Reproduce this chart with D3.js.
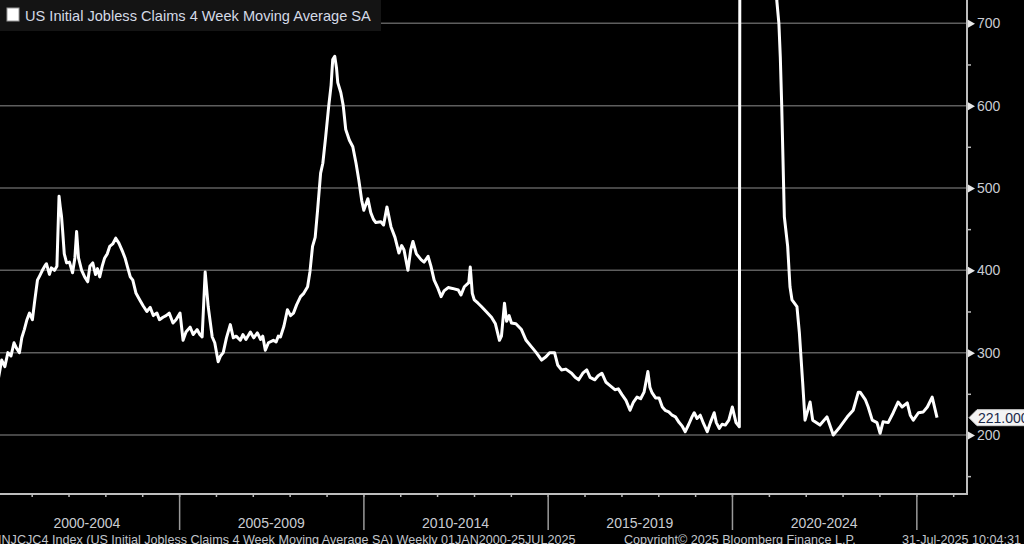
<!DOCTYPE html>
<html>
<head>
<meta charset="utf-8">
<script src="https://cdn.jsdelivr.net/npm/d3@7/dist/d3.min.js"></script>
<style>
  html, body { margin: 0; padding: 0; background: #000; }
  svg { display: block; }
</style>
</head>
<body>
<svg id="chart" width="1024" height="544"></svg>
<script>
// ---- Data ----
const dates = [
  "2000-01-07","2000-02-05","2000-03-10","2000-04-10","2000-05-10","2000-06-10","2000-07-10","2000-08-05","2000-09-01","2000-09-25","2000-10-20","2000-11-15","2000-12-10",
  "2001-01-08","2001-01-30","2001-02-27","2001-03-20","2001-04-17","2001-05-10","2001-05-27","2001-06-26","2001-07-15","2001-08-15","2001-09-08","2001-09-29","2001-10-10","2001-10-24","2001-11-03","2001-11-20","2001-12-13",
  "2002-01-10","2002-02-10","2002-03-05","2002-03-22","2002-04-10","2002-05-11","2002-06-10","2002-07-10","2002-08-01","2002-08-29","2002-09-25","2002-10-15","2002-11-06","2002-12-01","2002-12-25",
  "2003-01-20","2003-02-13","2003-03-15","2003-04-14","2003-05-15","2003-06-23","2003-07-15","2003-08-11","2003-09-05","2003-09-30","2003-11-01","2003-12-08",
  "2004-01-10","2004-02-16","2004-03-20","2004-04-20","2004-05-26","2004-06-20","2004-07-25","2004-08-25","2004-09-25","2004-11-01","2004-12-01",
  "2005-01-10","2005-02-09","2005-03-10","2005-04-20","2005-05-20","2005-06-28","2005-07-25","2005-08-17","2005-09-16","2005-10-16","2005-11-25","2005-12-20",
  "2006-01-23","2006-02-15","2006-03-14","2006-04-15","2006-05-23","2006-06-22","2006-07-20","2006-08-30","2006-09-25","2006-10-25","2006-12-08",
  "2007-01-10","2007-02-15","2007-03-20","2007-04-10","2007-05-05","2007-06-05","2007-07-24","2007-08-20","2007-09-10","2007-10-02","2007-11-05","2007-12-10",
  "2008-01-10","2008-02-08","2008-03-10","2008-04-18","2008-05-20","2008-06-27","2008-07-20","2008-08-15","2008-09-10","2008-10-04","2008-11-03","2008-11-25","2008-12-23",
  "2009-01-22","2009-02-15","2009-03-03","2009-03-23","2009-04-10","2009-04-22","2009-05-22","2009-06-15","2009-07-10","2009-08-15","2009-09-18","2009-10-20","2009-11-16","2009-12-15",
  "2010-01-05","2010-02-14","2010-03-15","2010-04-10","2010-05-04","2010-06-23","2010-07-20","2010-08-22","2010-10-01","2010-11-10","2010-12-19",
  "2011-01-15","2011-02-07","2011-03-18","2011-04-15","2011-05-07","2011-06-10","2011-07-26","2011-08-25","2011-10-04","2011-11-01","2011-12-03",
  "2012-01-10","2012-02-10","2012-03-10","2012-04-20","2012-06-01","2012-07-29","2012-08-25","2012-09-27","2012-11-10","2012-11-25","2012-12-15",
  "2013-01-04","2013-02-10","2013-03-15","2013-05-01","2013-06-23","2013-08-01","2013-09-10","2013-09-30","2013-10-30","2013-11-20","2013-12-15",
  "2014-01-07","2014-02-20","2014-04-16","2014-06-01","2014-07-25","2014-09-10","2014-11-02","2014-12-15",
  "2015-01-20","2015-03-10","2015-04-10","2015-05-18","2015-06-30","2015-08-26","2015-09-30","2015-11-04","2015-12-15",
  "2016-01-23","2016-02-25","2016-04-12","2016-05-15","2016-06-21","2016-08-01","2016-09-10","2016-10-28","2016-12-01",
  "2017-01-06","2017-02-15","2017-03-27","2017-04-30","2017-06-04","2017-07-10","2017-08-13","2017-09-20","2017-10-10","2017-11-01","2017-12-05",
  "2018-01-09","2018-02-10","2018-03-10","2018-04-15","2018-05-18","2018-06-20","2018-07-27","2018-08-25","2018-09-25","2018-10-30","2018-12-01","2018-12-23",
  "2019-01-20","2019-02-21","2019-03-25","2019-05-01","2019-06-01","2019-07-09","2019-07-30","2019-08-28","2019-09-25","2019-10-27","2019-12-01",
  "2020-01-05","2020-02-10","2020-03-14","2020-03-21","2020-03-28","2020-04-04","2020-04-11","2020-04-25",
  "2020-05-16","2020-06-13","2020-07-18","2020-08-22","2020-09-26","2020-11-07","2020-12-26",
  "2021-02-06","2021-03-06","2021-03-20","2021-04-10","2021-04-24","2021-05-08","2021-06-03","2021-07-06","2021-07-29","2021-08-18","2021-10-06","2021-10-30","2021-12-02","2021-12-25",
  "2022-02-13","2022-03-11","2022-05-22","2022-07-30","2022-10-01","2022-12-08",
  "2023-02-17","2023-04-16","2023-06-06","2023-06-24","2023-08-14","2023-09-12","2023-10-22","2023-12-08",
  "2024-01-08","2024-02-06","2024-03-28","2024-05-17","2024-07-04","2024-08-13","2024-10-03","2024-11-02","2024-12-02",
  "2025-01-22","2025-03-11","2025-04-20","2025-06-07","2025-07-25"
];
const claims = [
  287,268,291,283,300,296,312,305,300,318,328,340,348,
  340,362,388,393,400,405,408,395,403,400,405,490,478,465,449,420,409,
  410,397,415,447,415,400,392,386,405,409,395,402,392,405,415,
  420,429,432,439,433,422,415,403,392,388,372,364,
  357,350,355,345,348,340,343,345,348,336,340,
  348,315,325,331,322,328,322,319,398,356,319,312,
  289,296,300,318,334,318,320,315,322,316,325,
  318,324,316,320,303,312,315,313,320,319,332,352,
  345,348,358,368,372,380,398,429,440,473,518,530,562,
  599,625,656,660,645,628,616,600,571,558,550,530,510,485,
  473,487,470,462,458,459,455,477,453,440,421,
  430,425,400,425,435,420,413,410,417,405,388,
  378,368,375,379,378,376,370,380,385,404,372,
  364,360,356,350,343,335,315,320,360,338,345,
  336,335,328,315,307,300,291,295,
  300,300,285,279,280,275,270,267,275,
  279,270,267,272,275,264,260,255,256,
  249,242,230,240,246,244,252,277,258,251,245,
  245,234,230,228,224,222,215,211,204,213,222,227,
  220,224,214,204,215,227,215,208,213,212,218,
  234,215,210,1000,2600,4300,5500,4800,
  3000,1700,1400,1100,870,780,850,
  830,760,728,700,659,600,465,429,380,364,356,324,263,218,
  240,218,212,222,200,210,
  222,230,252,252,243,234,218,215,
  202,216,215,227,240,234,239,224,218,
  227,228,234,246,221
];
const yTicks = [200, 300, 400, 500, 600, 700];
const yMinorTicks = [150, 250, 350, 450, 550, 650];
const periodLabels = ["2000-2004", "2005-2009", "2010-2014", "2015-2019", "2020-2024"];
const periodStarts = [2000, 2005, 2010, 2015, 2020, 2025];
const lastValueLabel = "221.000";
const titleText = "US Initial Jobless Claims 4 Week Moving Average SA";
const footerLeft = "INJCJC4 Index (US Initial Jobless Claims 4 Week Moving Average SA) Weekly 01JAN2000-25JUL2025";
const footerMid = "Copyright\u00A9 2025 Bloomberg Finance L.P.";
const footerRight = "31-Jul-2025 10:04:31";

// ---- Layout ----
const W = 1024, H = 544;
const plotLeft = 0, plotRight = 967, plotTop = 0, plotBottom = 494;
const parse = d3.timeParse("%Y-%m-%d");
const data = dates.map((d, i) => ({ date: parse(d), value: claims[i] }));

const x = d3.scaleTime()
  .domain([new Date(2000, 0, 1), new Date(2026, 4, 18)])
  .range([-5.25, plotRight]);
const y = d3.scaleLinear()
  .domain([128.3, 728.3])
  .range([plotBottom, plotTop]);

const svg = d3.select("#chart");
svg.append("rect").attr("width", W).attr("height", H).attr("fill", "#000");

const defs = svg.append("defs");
defs.append("clipPath").attr("id", "plotClip")
  .append("rect").attr("x", plotLeft).attr("y", plotTop - 5)
  .attr("width", plotRight - plotLeft).attr("height", plotBottom - plotTop + 5);

// gridlines
svg.append("g").selectAll("line").data(yTicks).join("line")
  .attr("x1", plotLeft).attr("x2", plotRight)
  .attr("y1", d => y(d)).attr("y2", d => y(d))
  .attr("stroke", "#5e5e5e").attr("stroke-width", 1.5);

// line
const line = d3.line().x(d => x(d.date)).y(d => y(d.value));
svg.append("path").datum(data)
  .attr("clip-path", "url(#plotClip)")
  .attr("d", line)
  .attr("fill", "none")
  .attr("stroke", "#ffffff")
  .attr("stroke-width", 3)
  .attr("stroke-linejoin", "round");

const axisColor = "#bdbdbd";
const labelColor = "#c9ccd2";
const fontFam = "'Liberation Sans', Arial, sans-serif";

// bottom axis: yearly small ticks
const years = d3.range(2000, 2027).map(yr => new Date(yr, 0, 1));
const xAxisMinor = d3.axisBottom(x).tickValues(years).tickSize(3).tickFormat("");
const gx = svg.append("g").attr("transform", `translate(0,${plotBottom})`).call(xAxisMinor);
gx.select(".domain").remove();
gx.selectAll("line").attr("stroke", axisColor).attr("stroke-width", 1.5);

// bottom axis: 5-year dividers
const dividers = periodStarts.map(yr => new Date(yr, 0, 1));
const xAxisMajor = d3.axisBottom(x).tickValues(dividers).tickSize(36).tickFormat("");
const gx2 = svg.append("g").attr("transform", `translate(0,${plotBottom})`).call(xAxisMajor);
gx2.select(".domain").remove();
gx2.selectAll("line").attr("stroke", "#9a9a9a").attr("stroke-width", 1.5);

// baseline and right axis line
svg.append("line").attr("x1", plotLeft).attr("x2", plotRight)
  .attr("y1", plotBottom).attr("y2", plotBottom)
  .attr("stroke", axisColor).attr("stroke-width", 2);
svg.append("line").attr("x1", plotRight).attr("x2", plotRight)
  .attr("y1", plotTop).attr("y2", plotBottom + 1)
  .attr("stroke", axisColor).attr("stroke-width", 2);

// period labels
svg.append("g").selectAll("text").data(periodLabels).join("text")
  .attr("x", (d, i) => (x(dividers[i]) + x(dividers[i + 1])) / 2)
  .attr("y", 528)
  .attr("text-anchor", "middle")
  .attr("fill", labelColor)
  .attr("font-family", fontFam)
  .attr("font-size", 14)
  .text(d => d);

// right axis
const yAxis = d3.axisRight(y).tickValues(yTicks).tickSize(0).tickPadding(10).tickFormat(d3.format("d"));
const gy = svg.append("g").attr("transform", `translate(${plotRight},0)`).call(yAxis);
gy.select(".domain").remove();
gy.selectAll("text").attr("fill", labelColor).attr("font-family", fontFam).attr("font-size", 14);
gy.selectAll(".tick").append("path")
  .attr("d", "M1,-4 L8,0 L1,4 Z")
  .attr("fill", "#e8e8e8");

const yAxisMinor = d3.axisRight(y).tickValues(yMinorTicks).tickSize(4).tickFormat("");
const gym = svg.append("g").attr("transform", `translate(${plotRight},0)`).call(yAxisMinor);
gym.select(".domain").remove();
gym.selectAll("line").attr("stroke", axisColor).attr("stroke-width", 1.5);

// last value label
const last = data[data.length - 1];
const ly = y(last.value);
const lg = svg.append("g").attr("transform", `translate(${plotRight + 2},${ly})`);
lg.append("path")
  .attr("d", "M0,0 L8,-8 L70,-8 L70,8 L8,8 Z")
  .attr("fill", "#f4f4f4").attr("stroke", "#cfcfcf").attr("stroke-width", 1);
lg.append("text")
  .attr("x", 9).attr("y", 5)
  .attr("fill", "#1b2a4a")
  .attr("font-family", fontFam)
  .attr("font-size", 14)
  .text(lastValueLabel);

// title box
svg.append("rect").attr("x", 0).attr("y", 0).attr("width", 381).attr("height", 31).attr("fill", "#141414");
svg.append("rect").attr("x", 7).attr("y", 8).attr("width", 12).attr("height", 13)
  .attr("fill", "#ffffff").attr("stroke", "#9a9a9a").attr("stroke-width", 1);
svg.append("text").attr("x", 25).attr("y", 21)
  .attr("fill", "#d4dae6")
  .attr("font-family", fontFam)
  .attr("font-size", 14.6)
  .text(titleText);

// footer
const footer = svg.append("g").attr("font-family", fontFam).attr("font-size", 12.6).attr("fill", "#c2c6cc");
footer.append("text").attr("x", -2).attr("y", 544).text(footerLeft);
footer.append("text").attr("x", 624).attr("y", 544).text(footerMid);
footer.append("text").attr("x", 902).attr("y", 544).text(footerRight);
</script>
</body>
</html>
